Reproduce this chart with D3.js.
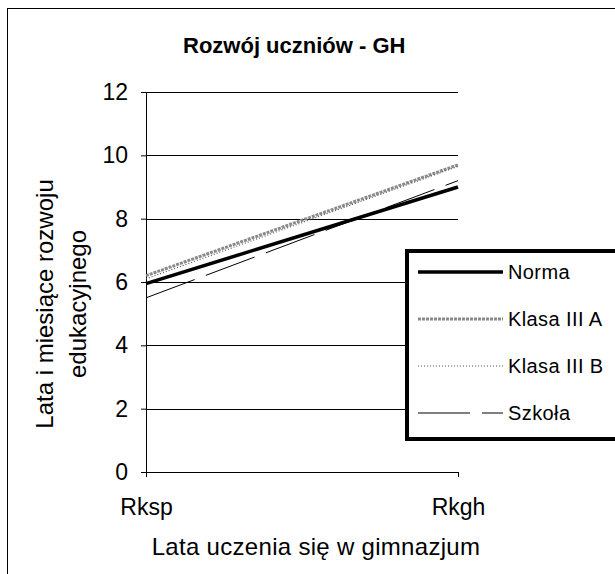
<!DOCTYPE html>
<html>
<head>
<meta charset="utf-8">
<script src="https://cdn.jsdelivr.net/npm/d3@7"></script>
<style>
  body { margin: 0; background: #fff; }
  text { font-family: "Liberation Sans", Arial, sans-serif; fill: #000; }
</style>
</head>
<body>
<div id="chart"></div>
<script>
// data
const categories = ['Rksp', 'Rkgh'];
const norma = [5.95, 9.0];
const klasaA = [6.2, 9.7];
const klasaB = [6.1, 9.65];
const szkola = [5.5, 9.2];
const yTicks = [0, 2, 4, 6, 8, 10, 12];

const series = [
  {name: 'Norma', values: norma, color: '#000', width: 3.5, dash: null},
  {name: 'Klasa III A', values: klasaA, color: '#8a8a8a', width: 3, dash: '3,1'},
  {name: 'Klasa III B', values: klasaB, color: '#555', width: 1.2, dash: '1,2'},
  {name: 'Szkoła', values: szkola, color: '#000', width: 1, dash: '52,12'}
];

const svgWidth = 615, svgHeight = 574;
const margin = {top: 92, right: 157, bottom: 102, left: 146};
const width = svgWidth - margin.left - margin.right;
const height = svgHeight - margin.top - margin.bottom;

const svg = d3.select('#chart')
  .append('svg')
  .attr('width', svgWidth)
  .attr('height', svgHeight);

// outer frame
svg.append('rect')
  .attr('x', 7.5).attr('y', 8.5)
  .attr('width', 620).attr('height', 600)
  .attr('fill', 'none').attr('stroke', '#000').attr('stroke-width', 1);

svg.append('text')
  .attr('x', 183).attr('y', 53)
  .attr('font-size', 22).attr('font-weight', 'bold')
  .text('Rozwój uczniów - GH');

const g = svg.append('g')
  .attr('transform', `translate(${margin.left},${margin.top})`);

const x = d3.scalePoint().domain(categories).range([0, width]);
const y = d3.scaleLinear().domain([0, 12]).range([height, 0]);

// gridlines
g.append('g')
  .selectAll('line')
  .data(yTicks.filter(d => d > 0))
  .join('line')
  .attr('x1', 0).attr('x2', width)
  .attr('y1', d => Math.round(y(d)) + 0.5).attr('y2', d => Math.round(y(d)) + 0.5)
  .attr('stroke', '#000').attr('stroke-width', 1);

// y axis
const yAxis = g.append('g')
  .call(d3.axisLeft(y).tickValues(yTicks).tickSize(5).tickPadding(13));
yAxis.selectAll('text').attr('font-size', 23);
yAxis.selectAll('line, path').attr('stroke', '#000');

// x axis
const xAxis = g.append('g')
  .attr('transform', `translate(0,${height})`)
  .call(d3.axisBottom(x).tickSize(5).tickSizeOuter(0).tickPadding(22));
xAxis.selectAll('text').attr('font-size', 23);
xAxis.selectAll('line, path').attr('stroke', '#000');

// lines
const line = d3.line()
  .x((d, i) => x(categories[i]))
  .y(d => y(d));

g.selectAll('.series')
  .data(series)
  .join('path')
  .attr('class', 'series')
  .attr('d', d => line(d.values))
  .attr('fill', 'none')
  .attr('stroke', d => d.color)
  .attr('stroke-width', d => d.width)
  .attr('stroke-dasharray', d => d.dash);

// axis titles
svg.append('text')
  .attr('x', 316).attr('y', 555)
  .attr('text-anchor', 'middle')
  .attr('font-size', 24).attr('letter-spacing', 0.3)
  .text('Lata uczenia się w gimnazjum');

const yTitle = svg.append('text')
  .attr('transform', 'translate(0,304) rotate(-90)')
  .attr('text-anchor', 'middle')
  .attr('font-size', 24);
yTitle.append('tspan').attr('x', 0).attr('y', 53).text('Lata i miesiące rozwoju');
yTitle.append('tspan').attr('x', 0).attr('y', 86).text('edukacyjnego');

// legend
const legend = svg.append('g').attr('transform', 'translate(405,249)');
legend.append('rect')
  .attr('x', 2).attr('y', 2)
  .attr('width', 210).attr('height', 188)
  .attr('fill', '#fff').attr('stroke', '#000').attr('stroke-width', 4);

const items = legend.selectAll('.item')
  .data(series)
  .join('g')
  .attr('class', 'item')
  .attr('transform', (d, i) => `translate(0,${23 + i * 47})`);

items.append('line')
  .attr('x1', 13).attr('x2', 98)
  .attr('stroke', d => d.color)
  .attr('stroke-width', d => d.width)
  .attr('stroke-dasharray', d => d.dash);

items.append('text')
  .attr('x', 103).attr('y', 7)
  .attr('font-size', 20).attr('letter-spacing', 0.4)
  .text(d => d.name);
</script>
</body>
</html>
